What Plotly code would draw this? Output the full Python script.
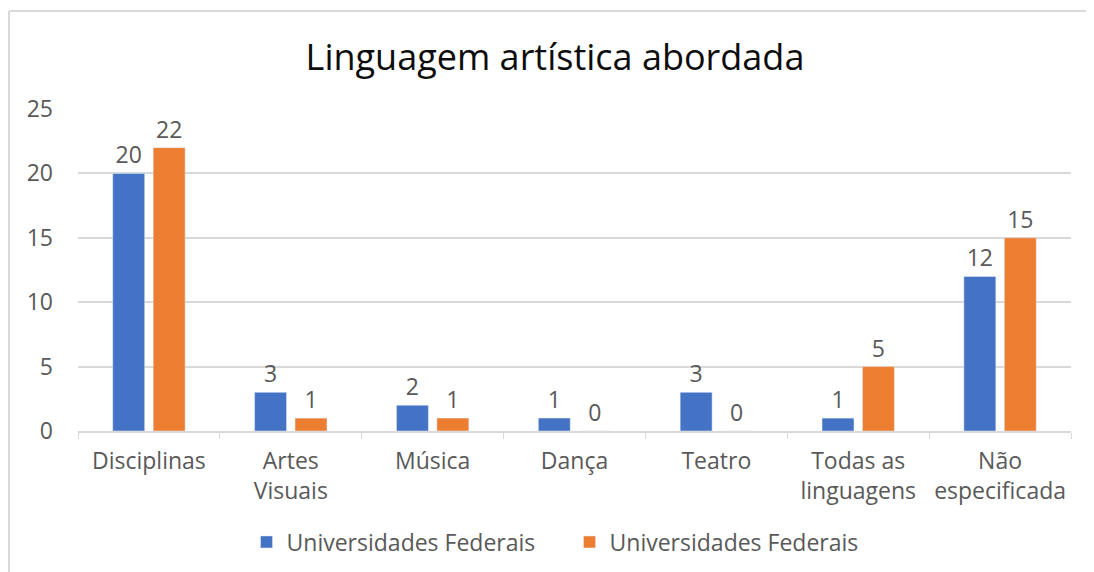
import plotly.graph_objects as go

categories = ["Disciplinas", "Artes<br>Visuais", "Música", "Dança", "Teatro", "Todas as<br>linguagens", "Não<br>especificada"]
series1_name = "Universidades Federais"
series1_values = [20, 3, 2, 1, 3, 1, 12]
series2_name = "Universidades Federais"
series2_values = [22, 1, 1, 0, 0, 5, 15]
y_ticks = [0, 5, 10, 15, 20, 25]

BLUE = "#4472C4"
ORANGE = "#ED7D31"
GRAY = "#595959"
GRID = "#D9D9D9"
FONT = "Open Sans"

fig = go.Figure()
for vals, name, col in [(series1_values, series1_name, BLUE), (series2_values, series2_name, ORANGE)]:
    fig.add_trace(go.Bar(
        x=categories, y=vals, name=name,
        marker=dict(color=col),
        text=[str(v) for v in vals], textposition="outside",
        textfont=dict(size=23, color=GRAY, family=FONT), cliponaxis=False,
    ))

W, H = 1094, 572
L, R, T, B = 70, 31, 101, 149
pw, ph = W - L - R, H - T - B

fig.update_layout(
    width=W, height=H,
    margin=dict(l=L, r=R, t=T, b=B),
    paper_bgcolor="white", plot_bgcolor="white",
    barmode="group", bargap=0.43, bargroupgap=0.21,
    font=dict(family=FONT, color=GRAY, size=23),
    title=dict(text="Linguagem artística abordada", x=0.5, xanchor="center",
               y=1 - 49 / H, yanchor="middle",
               font=dict(family=FONT, size=36, color="#0d0d0d")),
    showlegend=True,
    legend=dict(orientation="h", x=0.495, xanchor="center", y=-(534 - (H - B)) / ph, yanchor="middle",
                font=dict(size=23, color=GRAY, family=FONT), traceorder="normal",
                itemwidth=30, entrywidth=278, entrywidthmode="pixels"),
    xaxis=dict(showgrid=False, showline=True, linecolor=GRID, linewidth=1.5,
               ticks="outside", tickson="boundaries", tickcolor=GRID, ticklen=6,
               tickfont=dict(size=23, color=GRAY, family=FONT), ticklabelstandoff=9),
    yaxis=dict(range=[0, 25], tickvals=y_ticks, showgrid=True, gridcolor=GRID, gridwidth=1.5,
               zeroline=False, showline=False, ticks="",
               tickfont=dict(size=23, color=GRAY, family=FONT), ticklabelstandoff=24),
    shapes=[
        dict(type="line", xref="paper", yref="paper",
             x0=(1 - L) / pw, x1=(W + 5 - L) / pw, y0=(H - B - 3) / ph, y1=(H - B - 3) / ph,
             line=dict(color=GRID, width=2)),
        dict(type="line", xref="paper", yref="paper",
             x0=(1 - L) / pw, x1=(1 - L) / pw, y0=(H - B - 3) / ph, y1=-(B + 5) / ph,
             line=dict(color=GRID, width=2)),
    ],
)

fig.write_html("out.html")
